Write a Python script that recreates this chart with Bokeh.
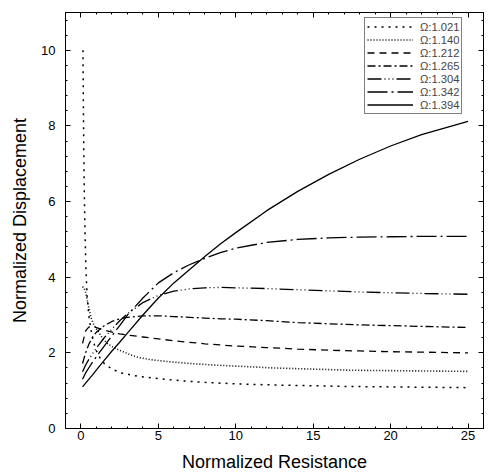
from bokeh.plotting import figure
from bokeh.models import LinearAxis, Legend, LegendItem, Range1d, SingleIntervalTicker
from bokeh.embed import file_html
from bokeh.resources import INLINE

# ---- data ----
x_1021 = [0.13, 0.15, 0.18, 0.22, 0.26, 0.32, 0.4, 0.5, 0.65, 0.8, 1.0, 1.25, 1.5, 2, 2.6, 3.7,
          5, 6.5, 8, 10, 12.5, 15, 17.5, 20, 22.5, 25]
y_1021 = [10, 8.8, 7.4, 6.1, 5.2, 4.2, 3.5, 3.0, 2.6, 2.3, 2.05, 1.85, 1.72, 1.57, 1.47, 1.38,
          1.32, 1.26, 1.22, 1.18, 1.15, 1.13, 1.11, 1.1, 1.09, 1.08]

x_1140 = [0.1, 0.2, 0.3, 0.45, 0.65, 0.85, 1.1, 1.4, 1.7, 2.1, 2.6, 3.2, 3.7, 4.5, 5.8, 7, 8.5,
          10, 12.5, 15, 17.5, 20, 22.5, 25]
y_1140 = [3.75, 3.72, 3.6, 3.3, 2.92, 2.72, 2.57, 2.38, 2.25, 2.14, 2.05, 1.95, 1.88, 1.82, 1.76,
          1.72, 1.68, 1.65, 1.6, 1.57, 1.54, 1.53, 1.52, 1.51]

x_common = [0.1, 0.3, 0.5, 0.75, 1, 1.5, 2, 2.5, 3, 4, 5, 6, 7, 8, 9, 10, 12, 14, 16, 18, 20, 22, 25]
y_1212 = [2.25, 2.58, 2.68, 2.7, 2.67, 2.6, 2.55, 2.5, 2.47, 2.42, 2.37, 2.32, 2.28, 2.24, 2.21,
          2.18, 2.14, 2.1, 2.07, 2.05, 2.03, 2.02, 2.0]
y_1265 = [1.72, 2.0, 2.22, 2.42, 2.55, 2.72, 2.83, 2.9, 2.94, 2.98, 2.98, 2.96, 2.94, 2.92, 2.9,
          2.89, 2.85, 2.8, 2.77, 2.74, 2.72, 2.7, 2.67]
y_1304 = [1.5, 1.68, 1.82, 1.98, 2.13, 2.4, 2.63, 2.85, 3.03, 3.33, 3.52, 3.63, 3.69, 3.72, 3.73,
          3.72, 3.7, 3.67, 3.64, 3.61, 3.59, 3.57, 3.55]
y_1342 = [1.3, 1.47, 1.6, 1.76, 1.9, 2.18, 2.45, 2.72, 3.0, 3.45, 3.85, 4.12, 4.33, 4.5, 4.65,
          4.77, 4.92, 5.0, 5.04, 5.06, 5.07, 5.08, 5.08]
y_1394 = [1.1, 1.2, 1.3, 1.42, 1.55, 1.8, 2.05, 2.28, 2.52, 3.0, 3.45, 3.85, 4.2, 4.55, 4.88,
          5.18, 5.76, 6.27, 6.72, 7.12, 7.47, 7.77, 8.12]

labels = ["Ω:1.021", "Ω:1.140", "Ω:1.212", "Ω:1.265", "Ω:1.304", "Ω:1.342", "Ω:1.394"]
x_ticks_interval = 5
y_ticks_interval = 2

series = [
    (x_1021, y_1021), (x_1140, y_1140), (x_common, y_1212), (x_common, y_1265),
    (x_common, y_1304), (x_common, y_1342), (x_common, y_1394),
]
dashes = ["2 5", "1 2", "7 5", "8 3 2 3", "14 3 1 3 1 3 1 3", "20 4 2 4", "solid"]
widths = [1.5, 1.6, 1.3, 1.3, 1.3, 1.3, 1.3]

FONT = "Liberation Sans"

p = figure(width=493, height=475, x_range=Range1d(-1, 26), y_range=Range1d(0, 11),
           output_backend="svg", toolbar_location=None,
           min_border_left=65, min_border_right=10, min_border_top=12, min_border_bottom=47)
p.grid.visible = False
p.outline_line_color = "black"
p.outline_line_width = 1
p.background_fill_color = "white"
p.border_fill_color = "white"

def style_axis(ax, labels_on=True):
    ax.axis_line_color = "black"
    ax.major_tick_in = 5
    ax.major_tick_out = 0
    ax.minor_tick_in = 2
    ax.minor_tick_out = 0
    ax.major_tick_line_color = "black"
    ax.minor_tick_line_color = "black"
    if labels_on:
        ax.major_label_text_font = FONT
        ax.major_label_text_font_size = "13px"
        ax.major_label_text_color = "black"
        ax.axis_label_text_font = FONT
        ax.axis_label_text_font_size = "18px"
        ax.axis_label_text_font_style = "normal"
        ax.axis_label_text_color = "black"
    else:
        ax.major_label_text_font_size = "1px"
        ax.major_label_text_color = None
        ax.major_label_standoff = 0

xb = p.xaxis[0]
xb.ticker = SingleIntervalTicker(interval=x_ticks_interval, num_minor_ticks=5)
xb.axis_label = "Normalized Resistance"
style_axis(xb)
xb.major_label_standoff = 2
xb.axis_label_standoff = 9

yl = p.yaxis[0]
yl.ticker = SingleIntervalTicker(interval=y_ticks_interval, num_minor_ticks=5)
yl.axis_label = "Normalized Displacement"
style_axis(yl)
yl.major_label_standoff = 10
yl.axis_label_standoff = 8

xt = LinearAxis(ticker=SingleIntervalTicker(interval=x_ticks_interval, num_minor_ticks=5))
style_axis(xt, labels_on=False)
p.add_layout(xt, "above")
yr = LinearAxis(ticker=SingleIntervalTicker(interval=y_ticks_interval, num_minor_ticks=5))
style_axis(yr, labels_on=False)
p.add_layout(yr, "right")

items = []
for (xs, ys), lab, d, w in zip(series, labels, dashes, widths):
    r = p.line(xs, ys, line_color="black", line_width=w, line_dash=d)
    items.append(LegendItem(label=lab, renderers=[r]))

legend = Legend(items=items, location=(299, 314), margin=0, padding=2, spacing=0,
                glyph_width=46, glyph_height=13, label_height=13, label_width=0,
                label_standoff=7,
                label_text_font=FONT, label_text_font_size="11.2px",
                border_line_color="black", border_line_width=1,
                background_fill_color="white", background_fill_alpha=1)
p.add_layout(legend)

open("out.html", "w").write(file_html(p, INLINE))
